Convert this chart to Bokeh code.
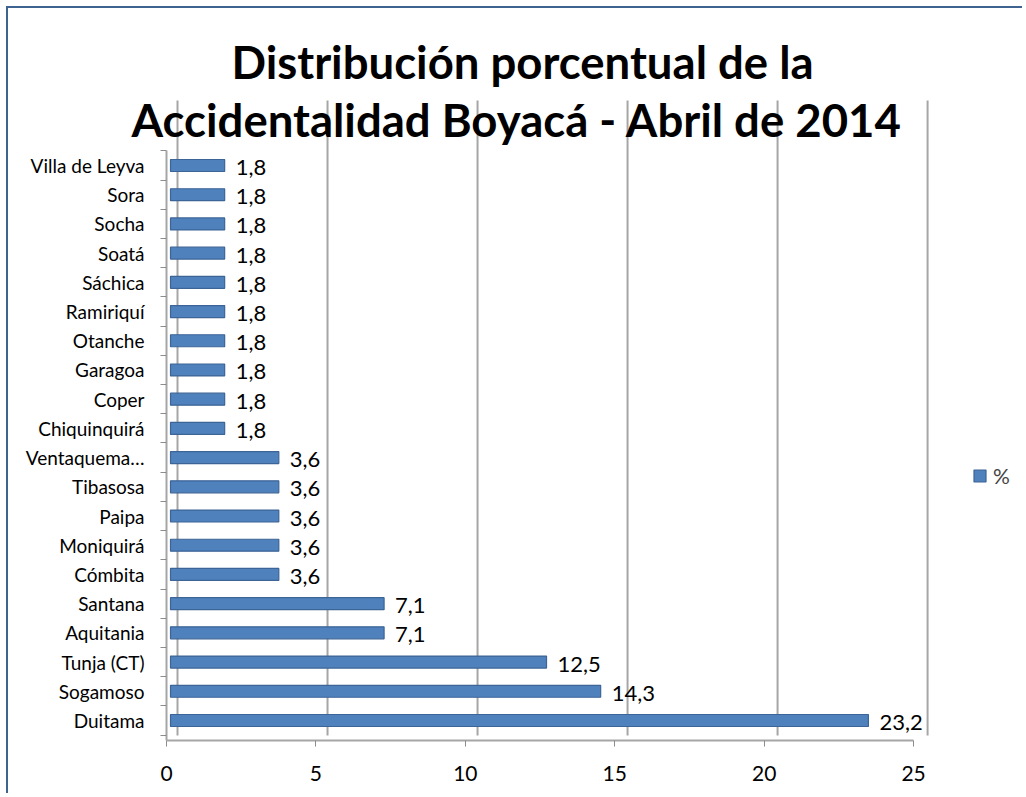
from bokeh.plotting import figure
from bokeh.models import (Range1d, LinearAxis, FixedTicker, Label, Legend,
                          LegendItem, ColumnDataSource)
from bokeh.core.properties import value
from bokeh.embed import file_html
from bokeh.resources import INLINE

# ---- data (bottom to top) ----
municipios = ["Duitama", "Sogamoso", "Tunja (CT)", "Aquitania", "Santana",
              "Cómbita", "Moniquirá", "Paipa", "Tibasosa", "Ventaquema…",
              "Chiquinquirá", "Coper", "Garagoa", "Otanche", "Ramiriquí",
              "Sáchica", "Soatá", "Socha", "Sora", "Villa de Leyva"]
porcentaje = [23.2, 14.3, 12.5, 7.1, 7.1,
              3.6, 3.6, 3.6, 3.6, 3.6,
              1.8, 1.8, 1.8, 1.8, 1.8,
              1.8, 1.8, 1.8, 1.8, 1.8]
x_ticks = [0, 5, 10, 15, 20, 25]
serie = "%"
titulo = ["Distribución porcentual de la", "Accidentalidad  Boyacá - Abril de 2014"]

FONT = "Lato"
idx = list(range(len(municipios)))
labels = [f"{v:.1f}".replace(".", ",") for v in porcentaje]
src = ColumnDataSource(dict(y=idx, v=porcentaje, lab=labels))

p = figure(width=1016, height=787, output_backend="svg", toolbar_location=None,
           x_range=Range1d(-5.386, 28.39), y_range=Range1d(-0.685, 24.375),
           x_axis_location=None, y_axis_location=None,
           min_border_left=0, min_border_right=0, min_border_top=0,
           min_border_bottom=55)
p.styles = {"position": "relative", "left": "8px", "top": "8px",
            "box-shadow": "-2px -2px 0 0 #3F6390"}
p.outline_line_color = None
p.background_fill_color = "white"
p.border_fill_color = "white"
p.xgrid.visible = False
p.ygrid.visible = False

# extra ranges (3D-like offsets between floor ticks, back wall and bars)
p.extra_x_ranges = {"axis": Range1d(-5.288, 28.71), "wall": Range1d(-5.633, 28.23)}

ticker = FixedTicker(ticks=x_ticks)
xaxis = LinearAxis(x_range_name="axis", ticker=ticker, bounds=(0, 25),
                   axis_line_color="#A6A6A6", axis_line_width=2,
                   major_tick_line_color="#8C8C8C", major_tick_in=0, major_tick_out=6,
                   minor_tick_line_color=None,
                   major_label_text_font=FONT, major_label_text_font_size="21px",
                   major_label_text_color="black", major_label_standoff=19)
p.add_layout(xaxis, "below")

# back-wall grid lines
p.segment(x0=x_ticks, x1=x_ticks, y0=-0.51, y1=21.225, x_range_name="wall",
          line_color="#A6A6A6", line_width=2)

ytick = FixedTicker(ticks=idx, minor_ticks=[i - 0.5 for i in idx] + [len(idx) - 0.5])
yaxis = LinearAxis(ticker=ytick, bounds=(-0.685, 19.5), fixed_location=-0.133,
                   axis_line_color="#A6A6A6", axis_line_width=2,
                   major_tick_in=0, major_tick_out=0,
                   minor_tick_line_color="#8C8C8C", minor_tick_in=0, minor_tick_out=6,
                   major_label_overrides={i: m for i, m in enumerate(municipios)},
                   major_label_text_font=FONT, major_label_text_font_size="19px",
                   major_label_text_color="black", major_label_standoff=16)
p.add_layout(yaxis, "left")

bars = p.hbar(y="y", right="v", left=0, height=0.41, source=src,
              fill_color="#4F81BD", line_color="#3C6496", line_width=1.2)
p.text(x="v", y="y", text="lab", source=src, x_offset=11, y_offset=2,
       text_font_size="22px", text_font=value(FONT), text_baseline="middle",
       text_color="black")

legend = Legend(items=[LegendItem(label=serie, renderers=[bars])],
                location=(964, 252), padding=0, margin=0, border_line_alpha=0,
                background_fill_alpha=0, glyph_width=15, glyph_height=15,
                label_standoff=6, label_text_font=FONT, label_text_font_size="21px")
p.add_layout(legend, "center")

for t, yy in zip(titulo, [679, 621]):
    p.add_layout(Label(x=514, y=yy, x_units="screen", y_units="screen", text=t,
                       text_align="center", text_baseline="alphabetic",
                       text_font=FONT, text_font_style="bold",
                       text_font_size="45.5px", text_color="black"))

open("out.html", "w").write(file_html(p, INLINE))
